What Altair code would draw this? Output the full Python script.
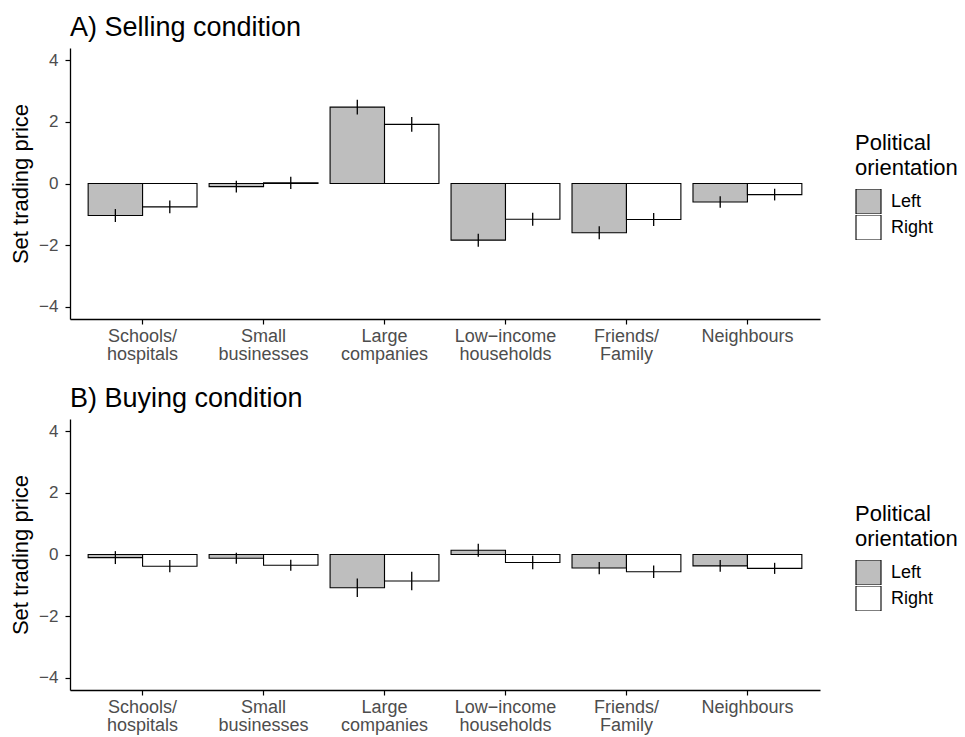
import altair as alt
import pandas as pd

# Recipient categories (line breaks mark the wrapped axis labels)
categories = [
    "Schools/\nhospitals",
    "Small\nbusinesses",
    "Large\ncompanies",
    "Low\u2212income\nhouseholds",
    "Friends/\nFamily",
    "Neighbours",
]
orientations = ["Left", "Right"]

# Selling condition: mean set trading price and error half-width
sell_left = [-1.04, -0.10, 2.48, -1.84, -1.60, -0.60]
sell_left_err = [0.21, 0.19, 0.24, 0.21, 0.21, 0.19]
sell_right = [-0.76, 0.02, 1.92, -1.16, -1.17, -0.36]
sell_right_err = [0.21, 0.20, 0.24, 0.21, 0.21, 0.19]

# Buying condition
buy_left = [-0.10, -0.12, -1.08, 0.14, -0.44, -0.37]
buy_left_err = [0.21, 0.18, 0.30, 0.21, 0.20, 0.19]
buy_right = [-0.38, -0.35, -0.86, -0.26, -0.56, -0.45]
buy_right_err = [0.20, 0.18, 0.30, 0.22, 0.20, 0.18]

y_ticks = [-4, -2, 0, 2, 4]

FONT = "Liberation Sans"


def make_frame(left, left_err, right, right_err):
    rows = []
    for orient, vals, errs in (("Left", left, left_err), ("Right", right, right_err)):
        for cat, v, e in zip(categories, vals, errs):
            rows.append({"category": cat, "orientation": orient,
                         "value": v, "lo": v - e, "hi": v + e})
    return pd.DataFrame(rows)


def panel(df, title):
    base = alt.Chart(df)
    x = alt.X(
        "category:N",
        sort=categories,
        scale=alt.Scale(paddingInner=0, paddingOuter=0.1),
        axis=alt.Axis(
            title=None,
            labelAngle=0,
            labelExpr="split(datum.label, '\\n')",
            labelFontSize=18,
            labelLineHeight=18.5,
            labelPadding=3,
            labelBaseline="top",
            tickSize=5,
        ),
    )
    xoff = alt.XOffset(
        "orientation:N",
        sort=orientations,
        scale=alt.Scale(paddingInner=0, paddingOuter=1 / 9),
    )
    yscale = alt.Scale(domain=[-4.4, 4.4], nice=False, zero=True)
    bars = base.mark_bar(stroke="black", strokeWidth=1.1).encode(
        x=x,
        xOffset=xoff,
        y=alt.Y(
            "value:Q",
            scale=yscale,
            axis=alt.Axis(
                title="Set trading price",
                values=y_ticks,
                grid=False,
                tickSize=5,
                labelPadding=7,
                labelFontSize=17,
                titleFontSize=22,
                titleFontWeight="normal",
                titleColor="black",
                titlePadding=6,
            ),
        ),
        color=alt.Color(
            "orientation:N",
            sort=orientations,
            scale=alt.Scale(domain=orientations, range=["#BEBEBE", "#FFFFFF"]),
            legend=alt.Legend(
                title=["Political", "orientation"],
                orient="none",
                legendX=785,
                legendY=85,
                titleFontSize=22,
                titleFontWeight="normal",
                titleColor="black",
                titleLineHeight=25,
                titlePadding=9,
                labelFontSize=18,
                labelColor="black",
                labelOffset=9,
                symbolType="square",
                symbolSize=625,
                symbolStrokeColor="black",
                symbolStrokeWidth=1.1,
                clipHeight=25,
                rowPadding=1,
            ),
        ),
    )
    errs = base.mark_rule(color="black", strokeWidth=1.3).encode(
        x=x,
        xOffset=xoff,
        y=alt.Y("lo:Q", scale=yscale),
        y2="hi:Q",
    )
    return alt.layer(bars, errs).properties(
        width=750,
        height=271,
        title=alt.TitleParams(
            title,
            anchor="start",
            frame="group",
            fontSize=27,
            fontWeight="normal",
            color="black",
            offset=6,
        ),
    )


sell = panel(make_frame(sell_left, sell_left_err, sell_right, sell_right_err),
             "A) Selling condition")
buy = panel(make_frame(buy_left, buy_left_err, buy_right, buy_right_err),
            "B) Buying condition")

chart = (
    alt.vconcat(sell, buy, spacing=21)
    .resolve_legend(color="independent")
    .properties(padding={"left": 9, "top": 14, "right": 5, "bottom": 0})
    .configure(font=FONT, background="white")
    .configure_view(stroke=None)
    .configure_axis(
        domainColor="black",
        domainWidth=1.3,
        tickColor="black",
        tickWidth=1.2,
        labelColor="#4D4D4D",
        labelFont=FONT,
        titleFont=FONT,
    )
    .configure_legend(labelFont=FONT, titleFont=FONT)
    .configure_title(font=FONT)
)

chart.save("out.html", embed_options={"renderer": "svg", "actions": False})
